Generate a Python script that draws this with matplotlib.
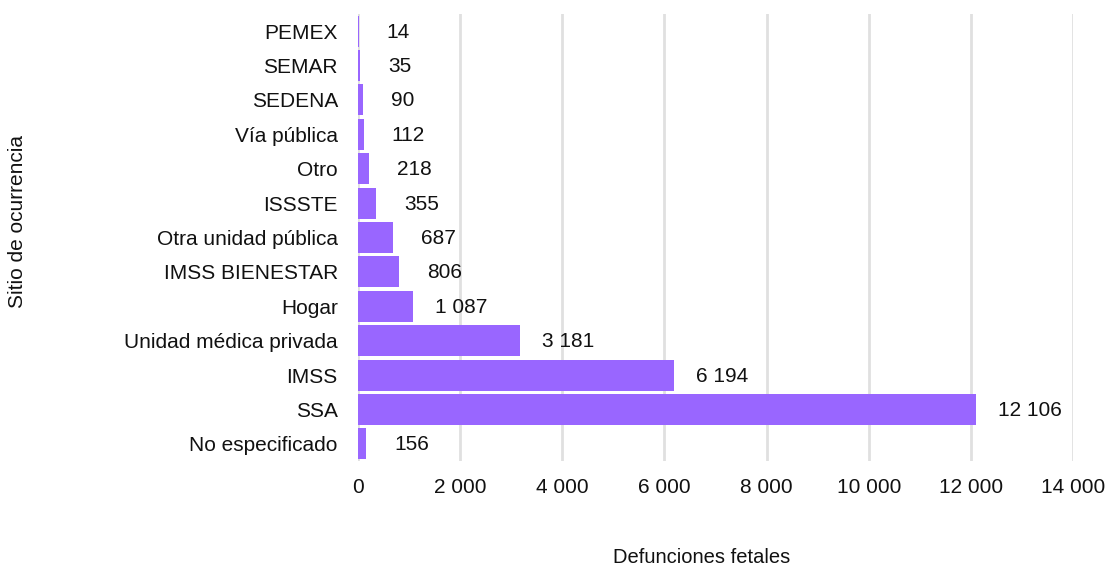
import matplotlib
matplotlib.use("Agg")
import matplotlib.pyplot as plt
from matplotlib.ticker import FuncFormatter
from matplotlib.transforms import offset_copy

plt.rcParams['font.family'] = ['Liberation Sans', 'DejaVu Sans']

# Data (top to bottom)
categories = ["PEMEX", "SEMAR", "SEDENA", "Vía pública", "Otro", "ISSSTE",
              "Otra unidad pública", "IMSS BIENESTAR", "Hogar",
              "Unidad médica privada", "IMSS", "SSA", "No especificado"]
values = [14, 35, 90, 112, 218, 355, 687, 806, 1087, 3181, 6194, 12106, 156]
xticks = [0, 2000, 4000, 6000, 8000, 10000, 12000, 14000]

TXT = "#111111"


def fmt_num(v, pos=None):
    return f"{int(v):,}".replace(",", " ")


fig = plt.figure(figsize=(11.1, 5.65), dpi=100)
ax = fig.add_axes([0.3225, 0.184, 0.6442, 0.7915])

ypos = list(range(len(categories)))
ax.barh(ypos, values, height=0.9, color="#9966ff", zorder=3)

# value labels, a pixel offset right of each bar end
for y, v in zip(ypos, values):
    label = fmt_num(v)
    dx = 22 if " " in label else 28
    trans = offset_copy(ax.transData, fig=fig, x=dx, y=-1, units='dots')
    ax.text(v, y, label, transform=trans, ha="left", va="center",
            fontsize=15, color=TXT)

ax.set_yticks(ypos)
ax.set_yticklabels(categories, fontsize=15, color=TXT)
ax.set_ylim(len(categories) - 0.5, -0.5)

ax.set_xlim(0, 14000)
ax.set_xticks(xticks)
ax.xaxis.set_major_formatter(FuncFormatter(fmt_num))
ax.tick_params(axis="x", labelsize=15, colors=TXT, length=0, pad=12.5)
ax.tick_params(axis="y", length=0, pad=14.5)
ax.grid(axis="x", color="#e0e0e0", linewidth=2, zorder=0)
for s in ax.spines.values():
    s.set_visible(False)

fig.text(0.632, 0.004, "Defunciones fetales", ha="center", va="baseline",
         fontsize=14.5, color=TXT)
fig.text(0.0162, 0.608, "Sitio de ocurrencia", ha="center", va="center",
         rotation=90, fontsize=15, color=TXT)

fig.savefig("out.png", dpi=100)
